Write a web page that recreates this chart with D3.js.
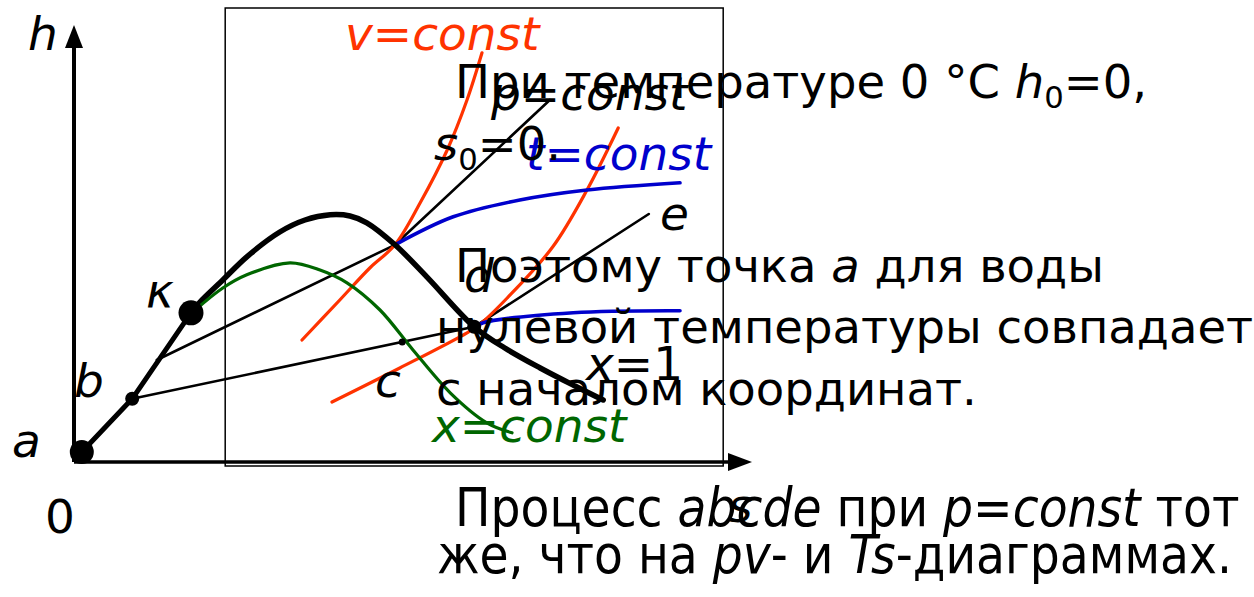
<!DOCTYPE html>
<html>
<head>
<meta charset="utf-8">
<script src="https://cdn.jsdelivr.net/npm/d3@7"></script>
<style>
  html, body { margin: 0; padding: 0; background: #fff; }
  svg { display: block; }
  text { font-family: "DejaVu Sans", Verdana, sans-serif; }
  .cond { font-family: "DejaVu Sans Condensed", "DejaVu Sans", sans-serif; font-stretch: condensed; }
</style>
</head>
<body>
<div class="div1"></div>
<script>
// s, h in chart units (entropy, enthalpy)
const liquidLine = [[0.13,0.25],[0.97,1.58],[1.95,3.73]];   // a-b-k
const saturation = [[1.95,3.73],[2.10,4.00],[2.48,4.55],[2.88,5.13],[3.43,5.75],[3.85,6.05],[4.27,6.18],[4.60,6.15],[4.88,5.98],[5.35,5.43],[5.88,4.63],[6.67,3.38],[7.18,2.85],[7.77,2.35],[8.35,1.90],[8.82,1.55]];
const xConst = [[2.02,3.80],[2.48,4.35],[2.88,4.68],[3.60,4.98],[4.10,4.80],[4.55,4.48],[5.10,3.80],[5.65,2.80],[6.27,1.73],[6.88,0.98],[7.30,0.73]];
const vConst1 = [[3.80,3.05],[4.43,4.05],[4.93,4.85],[5.35,5.43],[5.77,6.48],[6.22,7.80],[6.55,9.05],[6.80,10.23]];
const vConst2 = [[4.30,1.50],[5.43,2.35],[6.55,3.23],[6.77,3.45],[7.22,4.10],[7.98,5.38],[8.55,6.80],[9.07,8.35]];
const tConst1 = [[5.35,5.43],[6.32,6.13],[7.43,6.55],[8.55,6.80],[10.10,6.98]];
const tConst2 = [[6.70,3.38],[6.82,3.48],[8.32,3.73],[10.10,3.78]];
const isobar1 = [[0.97,1.58],[6.67,3.38],[9.58,6.20]];   // b-c-d-e
const isobar2 = [[1.38,2.55],[5.35,5.43],[7.93,9.05]];
const points = [
  {name:"a", s:0.13, h:0.25, r:12},
  {name:"b", s:0.97, h:1.58, r:7},
  {name:"k", s:1.95, h:3.73, r:12.5},
  {name:"c", s:5.47, h:3.00, r:3.5},
  {name:"d", s:6.67, h:3.38, r:7}
];
const frame = {s0:2.52, s1:10.82, h0:-0.1, h1:11.35};

// label parts: [text, italic]
const labels = [
  {x:28, y:50, c:"#000", parts:[["h",1]]},
  {x:12, y:457, c:"#000", parts:[["a",1]]},
  {x:74, y:397, c:"#000", parts:[["b",1]]},
  {x:146, y:307, c:"#000", parts:[["κ",1]]},
  {x:345, y:50, c:"#ff3300", parts:[["v=const",1]]},
  {x:491, y:110, c:"#000", parts:[["p=const",1]]},
  {x:526, y:170, c:"#0000cc", parts:[["t=const",1]]},
  {x:660, y:230, c:"#000", parts:[["e",1]]},
  {x:464, y:292, c:"#000", parts:[["d",1]]},
  {x:375, y:397, c:"#000", parts:[["c",1]]},
  {x:586, y:380, c:"#000", parts:[["x",1],["=1",0]]},
  {x:432, y:442, c:"#006600", parts:[["x=const",1]]},
  {x:728, y:522, c:"#000", parts:[["s",1]]},
  {x:45, y:533, c:"#000", parts:[["0",0]]}
];

// paragraph text: [text, italic, subscript]
const para1 = [
  {x:455, y:98, parts:[["При температуре 0 °С ",0,0],["h",1,0],["0",0,1],["=0,",0,0]]},
  {x:434, y:160, parts:[["s",1,0],["0",0,1],["=0.",0,0]]},
  {x:455, y:282, parts:[["Поэтому точка ",0,0],["a",1,0],[" для воды",0,0]]},
  {x:436, y:343, parts:[["нулевой температуры совпадает",0,0]]},
  {x:436, y:405, parts:[["с началом координат.",0,0]]}
];
const para2 = [
  {x:455, y:526, parts:[["Процесс ",0,0],["abcde",1,0],[" при ",0,0],["p=const",1,0],[" тот",0,0]]},
  {x:437, y:573, parts:[["же, что на ",0,0],["pv",1,0],["- и ",0,0],["Ts",1,0],["-диаграммах.",0,0]]}
];

const W = 1254, Hh = 597;
const svg = d3.select(".div1").append("svg").attr("width", W).attr("height", Hh);

const S = d3.scaleLinear().domain([0, 11.3]).range([74, 752]);
const H = d3.scaleLinear().domain([0, 10.925]).range([462, 25]);

// frame
svg.append("rect")
  .attr("x", S(frame.s0)).attr("y", H(frame.h1))
  .attr("width", S(frame.s1) - S(frame.s0)).attr("height", H(frame.h0) - H(frame.h1))
  .attr("fill", "none").attr("stroke", "#000").attr("stroke-width", 1.5);

// axes
svg.append("line").attr("x1", S(0)).attr("y1", H(0)).attr("x2", S(0)).attr("y2", H(10.4))
  .attr("stroke", "#000").attr("stroke-width", 4);
svg.append("line").attr("x1", S(0)).attr("y1", H(0)).attr("x2", S(10.9)).attr("y2", H(0))
  .attr("stroke", "#000").attr("stroke-width", 3.5);
svg.append("path")
  .attr("d", `M${S(0)},${H(10.925)} L${S(0)-9},${H(10.35)} L${S(0)+9},${H(10.35)} Z`)
  .attr("fill", "#000");
svg.append("path")
  .attr("d", `M${S(11.3)},${H(0)} L${S(10.9)},${H(0)-9} L${S(10.9)},${H(0)+9} Z`)
  .attr("fill", "#000");

const curve = d3.line().x(d => S(d[0])).y(d => H(d[1])).curve(d3.curveCatmullRom.alpha(0.5));
const straight = d3.line().x(d => S(d[0])).y(d => H(d[1]));

function draw(data, gen, color, w) {
  svg.append("path").attr("d", gen(data)).attr("fill", "none")
    .attr("stroke", color).attr("stroke-width", w)
    .attr("stroke-linejoin", "round").attr("stroke-linecap", "round");
}

draw(isobar1, straight, "#000", 2.6);
draw(isobar2, straight, "#000", 2.6);
draw(vConst1, curve, "#ff3300", 3.2);
draw(vConst2, curve, "#ff3300", 3.2);
draw(tConst1, curve, "#0000cc", 3.6);
draw(tConst2, curve, "#0000cc", 3.6);
draw(liquidLine, straight, "#000", 5);
draw(saturation, curve, "#000", 5.5);
draw(xConst, curve, "#006600", 3.2);

svg.selectAll(null).data(points).enter().append("circle")
  .attr("cx", d => S(d.s)).attr("cy", d => H(d.h)).attr("r", d => d.r).attr("fill", "#000");

// labels
labels.forEach(l => {
  const t = svg.append("text").attr("x", l.x).attr("y", l.y)
    .attr("font-size", 47).attr("fill", l.c);
  l.parts.forEach(p => {
    const ts = t.append("tspan").text(p[0]);
    if (p[1]) ts.attr("font-style", "italic");
  });
});

function paragraph(lines, size, cls) {
  lines.forEach(l => {
    const t = svg.append("text").attr("x", l.x).attr("y", l.y).attr("font-size", size)
      .attr("class", cls).attr("xml:space", "preserve").style("white-space", "pre");
    let sub = false;
    l.parts.forEach(p => {
      const ts = t.append("tspan").text(p[0]);
      if (p[1]) ts.attr("font-style", "italic");
      if (p[2]) { ts.attr("dy", 10).attr("font-size", size * 0.66); sub = true; }
      else if (sub) { ts.attr("dy", -10); sub = false; }
    });
  });
}
paragraph(para1, 46.5, "");
paragraph(para2, 52.5, "cond");
</script>
</body>
</html>
